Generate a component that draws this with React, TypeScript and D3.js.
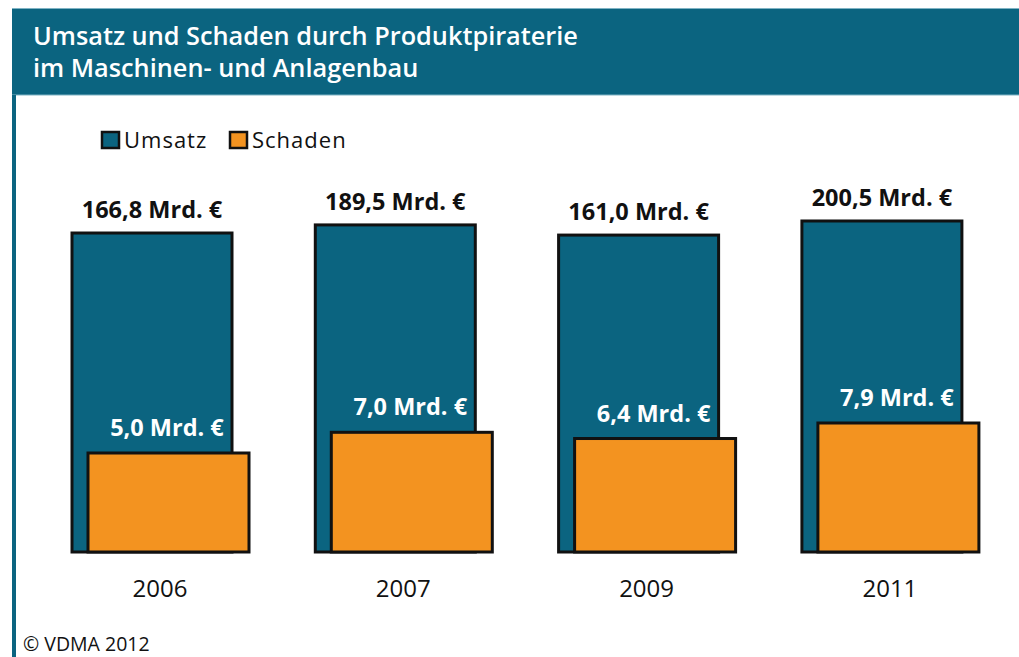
import React from "react";
import * as d3 from "d3";

const years = ["2006", "2007", "2009", "2011"];
const umsatz = [166.8, 189.5, 161.0, 200.5];
const schaden = [5.0, 7.0, 6.4, 7.9];
const umsatzLabels = ["166,8 Mrd. €", "189,5 Mrd. €", "161,0 Mrd. €", "200,5 Mrd. €"];
const schadenLabels = ["5,0 Mrd. €", "7,0 Mrd. €", "6,4 Mrd. €", "7,9 Mrd. €"];
const titleLines = ["Umsatz und Schaden durch Produktpiraterie", "im Maschinen- und Anlagenbau"];
const legendItems = ["Umsatz", "Schaden"];

const W = 1019;
const H = 657;
const TEAL = "#0b6480";
const ORANGE = "#f39320";
const FONT = "'Open Sans', 'Noto Sans', sans-serif";

export default function App() {
  const baseline = 552;
  const x = d3.scaleBand<string>().domain(years).range([72, 72 + 4 * 243.3]).paddingInner(0).paddingOuter(0);
  const barW = 160;
  const offset = 16;
  // non-zero-based scales, as in the original graphic
  const yU = d3.scaleLinear().domain([150, 210]).range([239, 217.6]);
  const yS = d3.scaleLinear().domain([5, 7.9]).range([453, 423]);

  return (
    <svg width={W} height={H} style={{ position: "absolute", left: 0, top: 0, background: "#fff" }}>
      <rect x={12} y={8} width={W - 12} height={87} fill={TEAL} />
      <line x1={12} x2={W} y1={8.5} y2={8.5} stroke="#7fb3c4" strokeWidth={1} />
      <line x1={12} x2={W} y1={95} y2={95} stroke="#7fb3c4" strokeWidth={1} />
      <rect x={12} y={95} width={4} height={H - 95} fill={TEAL} />
      <text x={33} y={45} fill="#fff" fontFamily={FONT} fontWeight={600} fontSize={25.3}>
        {titleLines.map((t, i) => (
          <tspan key={i} x={33} dy={i === 0 ? 0 : 31.5}>
            {t}
          </tspan>
        ))}
      </text>
      {legendItems.map((t, i) => {
        const lx = i === 0 ? 102 : 230;
        return (
          <g key={t}>
            <rect x={lx} y={132} width={17} height={16} fill={i === 0 ? TEAL : ORANGE} stroke="#111" strokeWidth={2.5} />
            <text x={lx + 22} y={148} fontFamily={FONT} fontSize={22} letterSpacing={1} fill="#111">
              {t}
            </text>
          </g>
        );
      })}
      {years.map((yr, i) => {
        const x0 = x(yr)!;
        const uTop = yU(umsatz[i]);
        const sTop = yS(schaden[i]);
        return (
          <g key={yr}>
            <rect x={x0} y={uTop} width={barW} height={baseline - uTop} fill={TEAL} stroke="#111" strokeWidth={3} />
            <rect x={x0 + offset} y={sTop} width={barW + 1} height={baseline - sTop} fill={ORANGE} stroke="#111" strokeWidth={3} />
            <text x={x0 + barW / 2} y={uTop - 15} textAnchor="middle" fontFamily={FONT} fontWeight={700} fontSize={23.5} fill="#111">
              {umsatzLabels[i]}
            </text>
            <text x={x0 + offset + barW / 2 - 1} y={sTop - 17} textAnchor="middle" fontFamily={FONT} fontWeight={700} fontSize={23.5} fill="#fff">
              {schadenLabels[i]}
            </text>
            <text x={x0 + (barW + offset) / 2} y={597} textAnchor="middle" fontFamily={FONT} fontSize={24} fill="#111">
              {yr}
            </text>
          </g>
        );
      })}
      <text x={23} y={651} fontFamily={FONT} fontSize={19.5} fill="#111">© VDMA 2012</text>
    </svg>
  );
}
